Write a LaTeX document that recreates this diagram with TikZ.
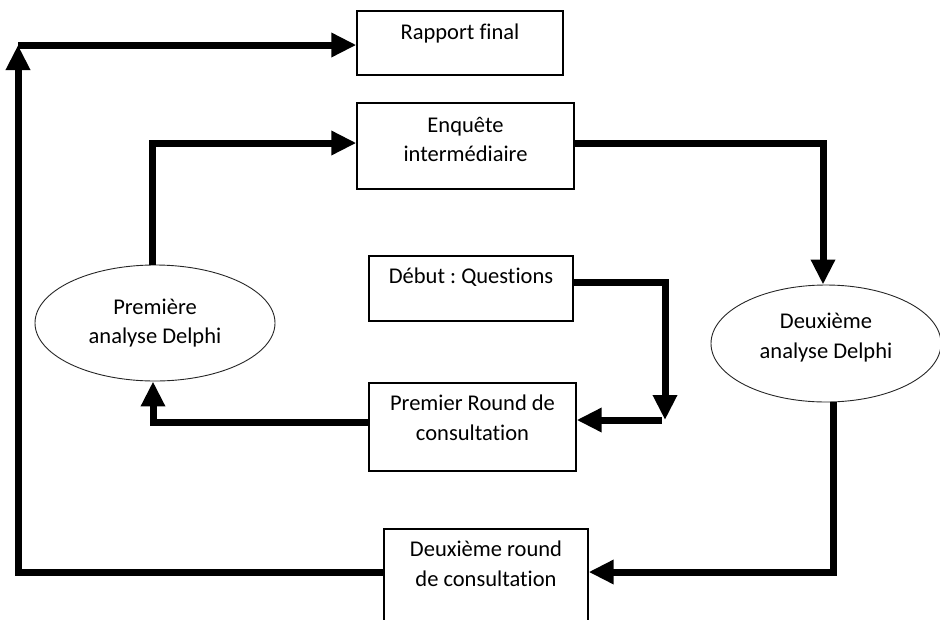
\documentclass[tikz,border=0pt]{standalone}
\usepackage{fontspec}
\setmainfont{Carlito}[RawFeature=-liga]
\usetikzlibrary{arrows.meta,shapes.geometric}
\frenchspacing

\tikzset{
  stepbox/.style={draw=black, line width=1.3pt, rectangle, inner sep=0pt},
  phase/.style={draw=black!85, line width=0.9pt, ellipse, inner sep=0pt,
    minimum width=240pt, minimum height=116pt, align=center,
    font=\fontsize{22.5}{29.5}\selectfont},
  boxtext/.style={anchor=north, inner sep=0pt, align=center,
    font=\fontsize{22.5}{29.5}\selectfont},
  flow/.style={line width=7pt, line join=miter, line cap=butt,
    -{Triangle[length=25pt,width=23pt]}},
}

\begin{document}
\begin{tikzpicture}[x=1pt, y=-1pt]
  \useasboundingbox (0,0) rectangle (940,619);
  \clip (0,0) rectangle (940,619);

  % boxes
  \node[stepbox, minimum width=206pt, minimum height=64pt] (rap) at (460,43) {};
  \node[stepbox, minimum width=217pt, minimum height=86pt] (enq) at (465.5,146) {};
  \node[stepbox, minimum width=204pt, minimum height=65pt] (deb) at (471,288.5) {};
  \node[stepbox, minimum width=207pt, minimum height=88pt] (pr1) at (472.5,427) {};
  \node[stepbox, minimum width=204pt, minimum height=96pt] (dr2) at (486,577) {};

  % box labels, set at the top of each box
  \node[boxtext] (tRap) at ([yshift=-7.85pt]rap.north) {\strut Rapport final};
  \node[boxtext] (tEnq) at ([yshift=-8.85pt]enq.north) {\strut Enquête\\\strut intermédiaire};
  \node[boxtext] (tDeb) at ([yshift=-6.85pt]deb.north) {\strut Début : Questions};
  \node[boxtext] (tPr1) at ([yshift=-7.35pt]pr1.north) {\strut Premier Round de\\\strut consultation};
  \node[boxtext] (tDr2) at ([yshift=-7.35pt]dr2.north) {\strut Deuxième round\\\strut de consultation};

  % analysis phases
  \node[phase] (ell1) at (155,323) {\strut Première\\\strut analyse Delphi};
  \node[phase, minimum width=230pt, minimum height=117pt] (ell2) at (826,343.5) {};
  \node[boxtext, anchor=base] (tEll2) at ([yshift=-14.5pt]ell2.center) {\strut Deuxième\\\strut analyse Delphi};

  % bends of the connectors
  \coordinate (cTL) at (18,45);
  \coordinate (cBL) at (18,572);
  \coordinate (cBR) at (833,572);
  \coordinate (cE1) at (152,143);
  \coordinate (cE2) at (823,143);
  \coordinate (cD)  at (665,282);
  \coordinate (cP)  at (665,420);
  \coordinate (cA)  at (153,422);

  % outer loop to the final report
  \draw[flow] (dr2.west |- cBL) -- (cBL) -- (cTL);
  \draw[flow] (cTL) -- (rap.west |- cTL);

  % first analysis -> intermediate survey -> second analysis
  \draw[flow] (cE1 |- ell1.north) -- (cE1) -- (enq.west |- cE1);
  \draw[flow] (enq.east |- cE2) -- (cE2) -- (cE2 |- ell2.north);

  % second analysis -> second round
  \draw[flow] (cBR |- ell2.south) -- (cBR) -- (dr2.east |- cBR);

  % start -> first round -> first analysis
  \draw[flow] (deb.east |- cD) -- (cD) -- (cP);
  \draw[flow] ([xshift=-3.5pt]cP) -- (pr1.east |- cP);
  \draw[flow] (pr1.west |- cA) -- (cA) -- (cA |- ell1.south);
\end{tikzpicture}
\end{document}
